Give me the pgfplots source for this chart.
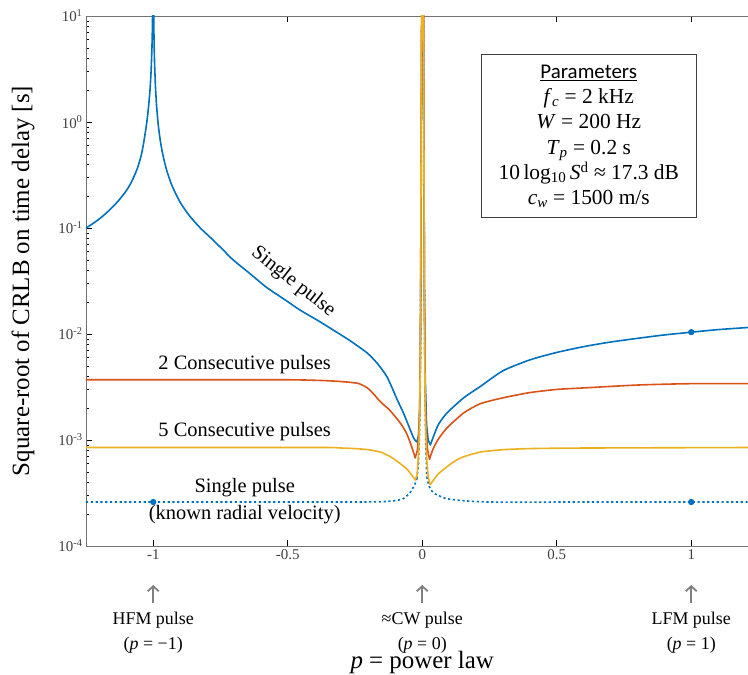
\documentclass[border=0pt]{standalone}
\usepackage{pgfplots}
\pgfplotsset{compat=1.18}
\usetikzlibrary{arrows.meta}
\usepackage{fontspec}
\setmainfont{Liberation Serif}
\newfontfamily\calibri{Carlito}
\definecolor{mblue}{rgb}{0,0.447,0.741}
\definecolor{morange}{rgb}{0.85,0.325,0.098}
\definecolor{myellow}{rgb}{0.929,0.694,0.125}
\begin{document}
\begin{tikzpicture}
\begin{axis}[
  scale only axis, width=672.5bp, height=530bp,
  xmin=-1.25, xmax=1.25, ymode=log, ymin=1e-4, ymax=10,
  xtick={-1,-0.5,0,0.5,1}, xticklabels={-1,-0.5,0,0.5,1},
  ytick={1e-4,1e-3,1e-2,1e-1,1,10},
  yticklabels={10\textsuperscript{-4},10\textsuperscript{-3},10\textsuperscript{-2},10\textsuperscript{-1},10\textsuperscript{0},10\textsuperscript{1}},
  tick label style={font=\rmfamily\fontsize{15}{18}\selectfont, text=black!75},
  axis line style={black!55, line width=0.8bp},
  major tick length=6bp, minor tick length=3.5bp,
  tick style={black, line width=0.6bp},
  every axis plot/.append style={line width=1.6bp, line cap=round, line join=round},
]
\coordinate (bl) at (rel axis cs:0,0);
\coordinate (yl) at (rel axis cs:0,0.5);
\coordinate (m1) at (axis cs:-1,1e-4);
\coordinate (z0) at (axis cs:0,1e-4);
\coordinate (p1) at (axis cs:1,1e-4);
% ---- dotted: single pulse, known radial velocity
\addplot[mblue, dash pattern=on 2.2bp off 2.6bp, line cap=butt, smooth, tension=0.4] coordinates {
(-1.25,0.00026)(-0.6,0.00026)(-0.25,0.00026)(-0.15,0.000262)(-0.1,0.000268)(-0.07,0.00028)(-0.045,0.00032)(-0.03,0.00037)(-0.02,0.00043)};
\addplot[mblue, dash pattern=on 2.2bp off 2.6bp, line cap=butt] coordinates {
(-0.02,0.00043)(-0.014,0.0006)(-0.01,0.0012)(-0.007,0.004)(-0.005,0.04)(-0.003,1)(-0.001,20)(0.004,20)(0.006,1)(0.008,0.03)(0.01,0.004)(0.013,0.0009)(0.017,0.00045)};
\addplot[mblue, dash pattern=on 2.2bp off 2.6bp, line cap=butt, smooth, tension=0.4] coordinates {
(0.017,0.00045)(0.025,0.00037)(0.04,0.00032)(0.06,0.0003)(0.09,0.00028)(0.15,0.000268)(0.25,0.00026)(0.6,0.00026)(1.25,0.00026)};
% ---- single pulse (solid blue)
\addplot[mblue, smooth, tension=0.4] coordinates {
(-1.25,0.100)(-1.22,0.112)(-1.19,0.128)(-1.16,0.150)(-1.13,0.180)(-1.10,0.225)(-1.08,0.275)(-1.06,0.36)(-1.045,0.48)(-1.035,0.65)(-1.025,0.95)(-1.018,1.35)(-1.012,2.0)};
\addplot[mblue] coordinates {
(-1.012,2.0)(-1.008,3.0)(-1.005,4.8)(-1.0035,7)(-1.0025,10)(-1.0,30)(-0.9982,10)(-0.9975,7)(-0.9965,5)(-0.995,3.5)(-0.992,2.2)(-0.988,1.45)};
\addplot[mblue, smooth, tension=0.4] coordinates {
(-0.988,1.45)(-0.982,0.97)(-0.975,0.70)(-0.965,0.50)(-0.95,0.35)(-0.93,0.25)(-0.90,0.175)(-0.865,0.13)(-0.825,0.10)(-0.78,0.078)(-0.74,0.062)(-0.703,0.050)(-0.64,0.037)(-0.576,0.0272)(-0.51,0.021)(-0.454,0.0168)(-0.39,0.0135)(-0.331,0.0109)(-0.27,0.0087)(-0.204,0.0066)(-0.165,0.0052)(-0.13,0.0039)(-0.093,0.0024)(-0.07,0.0018)(-0.05,0.00135)(-0.034,0.00107)(-0.026,0.00099)(-0.0197,0.00096)};
\addplot[mblue] coordinates {
(-0.0197,0.00096)(-0.014,0.0011)(-0.01,0.0018)(-0.007,0.006)(-0.005,0.05)(-0.003,1)(-0.001,20)(0.004,20)(0.006,1)(0.008,0.03)(0.011,0.004)(0.016,0.0014)(0.022,0.001)(0.03,0.0009)};
\addplot[mblue, smooth, tension=0.4] coordinates {
(0.03,0.0009)(0.04,0.00105)(0.06,0.0014)(0.092,0.0018)(0.154,0.0025)(0.216,0.0032)(0.3,0.0045)(0.4,0.0057)(0.5,0.0067)(0.6,0.0076)(0.7,0.0084)(0.8,0.0091)(0.9,0.0098)(1.0,0.0104)(1.1,0.0110)(1.25,0.0117)};
% ---- 2 consecutive pulses
\addplot[morange, smooth, tension=0.4] coordinates {
(-1.25,0.0037)(-0.8,0.0037)(-0.5,0.0037)(-0.4,0.00366)(-0.33,0.0036)(-0.268,0.0035)(-0.235,0.0034)(-0.204,0.0031)(-0.18,0.0027)(-0.156,0.0023)(-0.12,0.0019)(-0.082,0.00145)(-0.06,0.00118)(-0.045,0.00095)(-0.035,0.0008)(-0.026,0.00068)};
\addplot[morange] coordinates {
(-0.026,0.00068)(-0.018,0.0008)(-0.012,0.0012)(-0.008,0.003)(-0.006,0.02)(-0.004,1)(-0.002,20)(0.004,20)(0.006,1)(0.008,0.02)(0.01,0.004)(0.014,0.0013)(0.02,0.0008)(0.027,0.00066)};
\addplot[morange, smooth, tension=0.4] coordinates {
(0.027,0.00066)(0.04,0.00082)(0.06,0.00102)(0.092,0.0013)(0.154,0.0018)(0.216,0.0022)(0.3,0.0025)(0.4,0.0028)(0.5,0.0030)(0.6,0.0031)(0.8,0.0033)(1.0,0.0034)(1.25,0.0034)};
% ---- 5 consecutive pulses
\addplot[myellow, smooth, tension=0.4] coordinates {
(-1.25,0.00085)(-0.6,0.00085)(-0.35,0.00085)(-0.3,0.00084)(-0.25,0.00083)(-0.2,0.00081)(-0.156,0.00077)(-0.12,0.0007)(-0.082,0.0006)(-0.06,0.00054)(-0.045,0.00049)(-0.035,0.00045)(-0.026,0.00042)};
\addplot[myellow] coordinates {
(-0.026,0.00042)(-0.019,0.00047)(-0.013,0.0008)(-0.009,0.002)(-0.006,0.02)(-0.004,1)(-0.002,20)(0.004,20)(0.006,1)(0.008,0.02)(0.011,0.002)(0.016,0.0007)(0.022,0.00045)(0.03,0.00038)};
\addplot[myellow, smooth, tension=0.4] coordinates {
(0.03,0.00038)(0.045,0.00043)(0.06,0.00048)(0.092,0.00056)(0.12,0.00063)(0.15,0.00069)(0.216,0.00077)(0.3,0.00081)(0.4,0.00083)(0.6,0.00084)(1.25,0.00085)};
% ---- markers
\addplot[only marks, mark=*, mark size=2.3bp, mblue] coordinates {(1,0.0104)};
\addplot[only marks, mark=*, mark size=2.3bp, mblue] coordinates {(-1,0.00026)(1,0.00026)};
% ---- labels
\node[rotate=-38, font=\fontsize{20.5}{24}\selectfont] at (axis cs:-0.48,0.031) {Single pulse};
\node[font=\fontsize{20.5}{24}\selectfont] at (axis cs:-0.66,0.0051) {2 Consecutive pulses};
\node[font=\fontsize{20.5}{24}\selectfont] at (axis cs:-0.66,0.00119) {5 Consecutive pulses};
\node[font=\fontsize{20.5}{24}\selectfont] at (axis cs:-0.66,0.000355) {Single pulse};
\node[font=\fontsize{20.5}{24}\selectfont] at (axis cs:-0.66,0.000196) {(known radial velocity)};
\node[draw=black!75, line width=1bp, fill=white, align=center, font=\fontsize{21.5}{25.4}\selectfont, inner xsep=5bp, inner ysep=5bp, minimum width=215bp, minimum height=163bp] at (axis cs:0.619,0.73)
 {{\calibri\fontsize{21}{25.4}\selectfont\underline{Parameters}}\\
  \rmfamily\textit{f}\textsubscript{\textit{c}} = 2 kHz\\
  \rmfamily\textit{W} = 200 Hz\\
  \rmfamily\textit{T}\textsubscript{\textit{p}} = 0.2 s\\
  \rmfamily 10\,log\textsubscript{10}\,\textit{S}\textsuperscript{d} ≈ 17.3 dB\\
  \rmfamily\textit{c}\textsubscript{\textit{w}} = 1500 m/s};
\end{axis}
% ---- annotations below the axis
\begin{scope}[font=\fontsize{18}{22}\selectfont]
\draw[black!50, line width=1.8bp, -{Straight Barb[length=5bp,width=11bp]}] ([yshift=-57bp]m1) -- ([yshift=-39bp]m1);
\draw[black!50, line width=1.8bp, -{Straight Barb[length=5bp,width=11bp]}] ([yshift=-57bp]z0) -- ([yshift=-39bp]z0);
\draw[black!50, line width=1.8bp, -{Straight Barb[length=5bp,width=11bp]}] ([yshift=-57bp]p1) -- ([yshift=-39bp]p1);
\node at ([yshift=-74bp]m1) {HFM pulse};
\node at ([yshift=-99bp]m1) {(\textit{p} = −1)};
\node at ([yshift=-74bp]z0) {≈CW pulse};
\node at ([yshift=-99bp]z0) {(\textit{p} = 0)};
\node at ([yshift=-74bp]p1) {LFM pulse};
\node at ([yshift=-99bp]p1) {(\textit{p} = 1)};
\end{scope}
\node[font=\fontsize{25}{30}\selectfont] at ([yshift=-117bp]z0) {\textit{p} = power law};
\node[rotate=90, font=\fontsize{25}{30}\selectfont] at ([xshift=-63bp]yl) {Square-root of CRLB on time delay [s]};
\pgfresetboundingbox
\path[use as bounding box] ([shift={(-86bp,-129bp)}]bl) rectangle ([shift={(662bp,546bp)}]bl);
\end{tikzpicture}
\end{document}
